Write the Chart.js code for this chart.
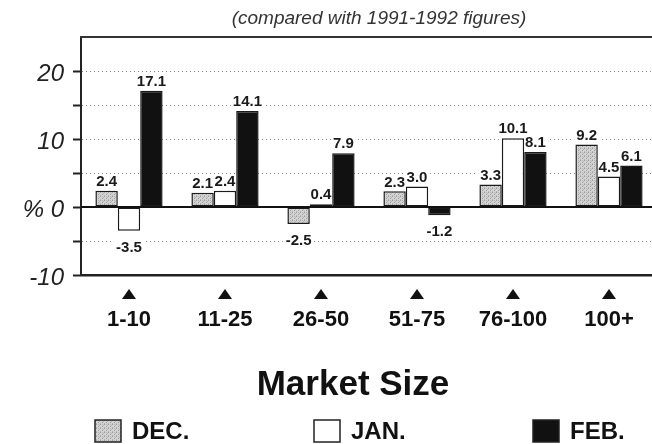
<!DOCTYPE html>
<html><head><meta charset="utf-8">
<script src="https://cdn.jsdelivr.net/npm/chart.js@4"></script>
<style>
html{overflow:hidden}
html,body{margin:0;padding:0;background:#fff}
#wrap{width:660px;height:444px}
#c{width:660px;height:444px;display:block}
</style>
</head><body>
<div id="wrap"><canvas id="c" width="660" height="444"></canvas></div>
<script>
// ---- data ----
const categories = ['1-10', '11-25', '26-50', '51-75', '76-100', '100+'];
const seriesNames = ['DEC.', 'JAN.', 'FEB.'];
const decValues = [2.4, 2.1, -2.5, 2.3, 3.3, 9.2];
const janValues = [-3.5, 2.4, 0.4, 3.0, 10.1, 4.5];
const febValues = [17.1, 14.1, 7.9, -1.2, 8.1, 6.1];
const yLabelValues = [20, 10, 0, -10];
const yLabelTexts = ['20', '10', '% 0', '-10'];
const subtitleText = '(compared with 1991-1992 figures)';
const xTitleText = 'Market Size';

const FONT = '"Liberation Sans", Arial, Helvetica, sans-serif';
const canvas = document.getElementById('c');
const mainCtx = canvas.getContext('2d');

function stipplePattern() {
  const p = document.createElement('canvas');
  p.width = 4; p.height = 4;
  const g = p.getContext('2d');
  g.fillStyle = '#d4d4d4'; g.fillRect(0, 0, 4, 4);
  g.fillStyle = '#9a9a9a'; g.fillRect(0, 0, 1, 1); g.fillRect(2, 2, 1, 1);
  g.fillStyle = '#b4b4b4'; g.fillRect(2, 0, 1, 1); g.fillRect(0, 3, 1, 1); g.fillRect(3, 1, 1, 1);
  return mainCtx.createPattern(p, 'repeat');
}

const fills = [stipplePattern(), '#ffffff', '#111111'];
const seriesValues = [decValues, janValues, febValues];

const decor = {
  id: 'decor',
  beforeDatasetsDraw(chart) {
    const { ctx } = chart;
    ctx.save();
    ctx.font = `bold 15px ${FONT}`;
    chart.data.datasets.forEach((ds, di) => {
      chart.getDatasetMeta(di).data.forEach((el, i) => {
        const v = ds.data[i];
        const t = v.toFixed(1);
        const ly = v >= 0 ? el.y - 9 : el.y + 17;
        const w = ctx.measureText(t).width + 4;
        ctx.fillStyle = '#fff';
        ctx.fillRect(el.x - w / 2, ly - 7, w, 14);
      });
    });
    ctx.restore();
  },
  afterDatasetsDraw(chart) {
    const { ctx, chartArea: a, scales: { y } } = chart;
    ctx.save();
    const y0 = y.getPixelForValue(0);
    ctx.strokeStyle = '#111'; ctx.lineWidth = 2.2;
    ctx.beginPath(); ctx.moveTo(a.left, y0); ctx.lineTo(a.right + 10, y0); ctx.stroke();
    ctx.strokeStyle = '#333'; ctx.lineWidth = 2;
    ctx.beginPath(); ctx.moveTo(a.left - 1, a.top); ctx.lineTo(a.right + 10, a.top); ctx.stroke();
    ctx.font = `bold 15px ${FONT}`;
    ctx.fillStyle = '#1a1a1a';
    ctx.textAlign = 'center'; ctx.textBaseline = 'middle';
    chart.data.datasets.forEach((ds, di) => {
      chart.getDatasetMeta(di).data.forEach((el, i) => {
        const v = ds.data[i];
        const ly = v >= 0 ? el.y - 9 : el.y + 17;
        ctx.fillText(v.toFixed(1), el.x, ly);
      });
    });
    ctx.restore();
  },
  afterDraw(chart) {
    const { ctx, scales: { x } } = chart;
    ctx.save();
    ctx.fillStyle = '#111';
    chart.data.labels.forEach((l, i) => {
      const px = x.getPixelForValue(i);
      ctx.beginPath();
      ctx.moveTo(px - 7, 299); ctx.lineTo(px + 7, 299); ctx.lineTo(px, 289);
      ctx.closePath(); ctx.fill();
    });
    ctx.font = `italic 19px ${FONT}`;
    ctx.fillStyle = '#333';
    ctx.textAlign = 'center'; ctx.textBaseline = 'middle';
    ctx.fillText(subtitleText, 379, 19);
    ctx.font = `bold 35px ${FONT}`;
    ctx.fillStyle = '#111';
    ctx.fillText(xTitleText, 353, 385);
    ctx.font = `bold 24px ${FONT}`;
    ctx.textAlign = 'left';
    chart.data.datasets.forEach((ds, i) => {
      const bx = 95 + i * 219;
      ctx.fillStyle = ds.backgroundColor;
      ctx.fillRect(bx, 420, 26, 22);
      ctx.strokeStyle = '#222'; ctx.lineWidth = 1.5;
      ctx.strokeRect(bx, 420, 26, 22);
      ctx.fillStyle = '#111';
      ctx.fillText(ds.label, bx + 37, 432);
    });
    ctx.restore();
  }
};

new Chart(canvas, {
  type: 'bar',
  data: {
    labels: categories,
    datasets: seriesNames.map((name, i) => ({
      label: name,
      data: seriesValues[i],
      backgroundColor: fills[i],
      borderColor: '#1a1a1a',
      borderWidth: 1.5,
      borderSkipped: false,
      categoryPercentage: 0.7,
      barPercentage: 1.0
    }))
  },
  options: {
    responsive: false,
    animation: false,
    layout: { padding: { top: 37, right: 3, left: 0, bottom: 0 } },
    plugins: { legend: { display: false }, title: { display: false }, tooltip: { enabled: false } },
    scales: {
      x: {
        afterFit: (s) => { s.height = 169; s.paddingLeft = 0; s.paddingRight = 0; },
        grid: { display: false, drawTicks: false },
        border: { display: true, color: '#222', width: 2.5 },
        ticks: { font: { family: FONT, size: 22, weight: 'bold' }, color: '#111', padding: 32, maxRotation: 0 }
      },
      y: {
        min: -10, max: 25,
        afterFit: (s) => { s.width = 81; },
        ticks: {
          stepSize: 5,
          font: { family: FONT, size: 24, style: 'italic' },
          color: '#222',
          padding: 9,
          labelOffset: 3,
          callback: (v) => { const k = yLabelValues.indexOf(v); return k >= 0 ? yLabelTexts[k] : ''; }
        },
        grid: {
          color: (c) => (c.tick && (c.tick.value === 25 || c.tick.value === 0 || c.tick.value === -10)) ? 'rgba(0,0,0,0)' : '#8a8a8a',
          lineWidth: 1,
          tickLength: 8,
          tickWidth: 2,
          tickColor: (c) => (c.tick && c.tick.value === 25) ? 'rgba(0,0,0,0)' : '#222',
          tickBorderDash: []
        },
        border: { display: true, color: '#222', width: 2, dash: [1, 3] }
      }
    }
  },
  plugins: [decor]
});
</script>
</body></html>
